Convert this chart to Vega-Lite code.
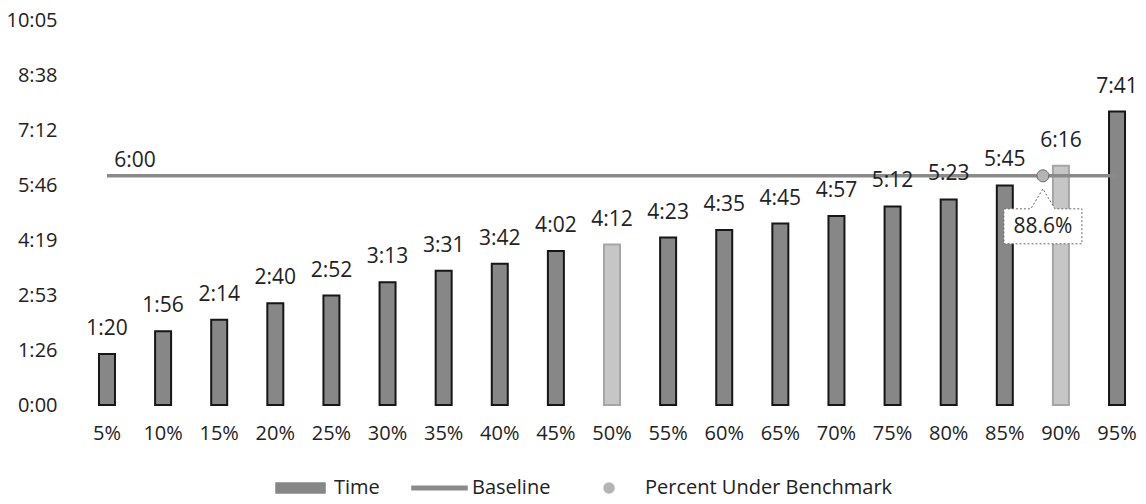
{
  "$schema": "https://vega.github.io/schema/vega-lite/v6.json",
  "width": 1066,
  "height": 385,
  "autosize": {"type": "none"},
  "padding": {"left": 79, "top": 20, "right": 1, "bottom": 99},
  "background": "white",
  "config": {"view": {"stroke": null}, "font": "Open Sans", "text": {"font": "Open Sans"}},
  "datasets": {
    "times": [
      {"pct": "5%", "sec": 80, "label": "1:20"},
      {"pct": "10%", "sec": 116, "label": "1:56"},
      {"pct": "15%", "sec": 134, "label": "2:14"},
      {"pct": "20%", "sec": 160, "label": "2:40"},
      {"pct": "25%", "sec": 172, "label": "2:52"},
      {"pct": "30%", "sec": 193, "label": "3:13"},
      {"pct": "35%", "sec": 211, "label": "3:31"},
      {"pct": "40%", "sec": 222, "label": "3:42"},
      {"pct": "45%", "sec": 242, "label": "4:02"},
      {"pct": "50%", "sec": 252, "label": "4:12"},
      {"pct": "55%", "sec": 263, "label": "4:23"},
      {"pct": "60%", "sec": 275, "label": "4:35"},
      {"pct": "65%", "sec": 285, "label": "4:45"},
      {"pct": "70%", "sec": 297, "label": "4:57"},
      {"pct": "75%", "sec": 312, "label": "5:12"},
      {"pct": "80%", "sec": 323, "label": "5:23"},
      {"pct": "85%", "sec": 345, "label": "5:45"},
      {"pct": "90%", "sec": 376, "label": "6:16"},
      {"pct": "95%", "sec": 461, "label": "7:41"}
    ],
    "baseline": [{"pct": "5%", "value": 360, "label": "6:00"}],
    "benchmark": [{"pct": "90%", "value": 360, "label": "88.6%"}]
  },
  "layer": [
    {
      "data": {"name": "times"},
      "mark": {"type": "bar", "strokeWidth": 2},
      "encoding": {
        "x": {
          "field": "pct", "type": "ordinal",
          "scale": {"domain": ["5%","10%","15%","20%","25%","30%","35%","40%","45%","50%","55%","60%","65%","70%","75%","80%","85%","90%","95%"], "paddingInner": 0.715, "paddingOuter": 0.356},
          "axis": {"title": null, "labelAngle": 0, "labelFontSize": 20, "labelFont": "Open Sans", "labelColor": "#222", "domain": false, "ticks": false, "labelPadding": 18}
        },
        "y": {
          "field": "sec", "type": "quantitative",
          "scale": {"domain": [0, 604.8], "nice": false},
          "axis": {
            "title": null, "values": [0, 86.4, 172.8, 259.2, 345.6, 432, 518.4, 604.8],
            "labelExpr": "floor(datum.value/60) + ':' + (round(datum.value % 60) < 10 ? '0' : '') + round(datum.value % 60)",
            "grid": false, "domain": false, "ticks": false, "labelPadding": 22,
            "labelFontSize": 20, "labelFont": "Open Sans", "labelColor": "#222"
          }
        },
        "color": {
          "condition": {"test": "datum.pct === '50%' || datum.pct === '90%'", "value": "#c6c6c6"},
          "datum": "Time",
          "scale": {"domain": ["Time", "Baseline", "Percent Under Benchmark"], "range": ["#878787", "#8a8a8a", "#b4b4b4"]},
          "legend": {
            "title": null, "orient": "none", "legendX": 231, "legendY": 458, "direction": "horizontal",
            "symbolSize": 100, "labelFontSize": 20, "labelFont": "Open Sans", "labelColor": "#222",
            "labelOffset": 4, "columnPadding": 29, "labelLimit": 500,
            "encode": {"symbols": {"update": {"fill": {"scale": "color", "field": "value"}, "stroke": {"value": "transparent"}, "opacity": {"value": 1}}}}
          }
        },
        "stroke": {
          "condition": {"test": "datum.pct === '50%' || datum.pct === '90%'", "value": "#a5a5a5"},
          "value": "#161616"
        }
      }
    },
    {
      "data": {"name": "times"},
      "mark": {"type": "line", "strokeWidth": 3.5},
      "encoding": {
        "x": {"field": "pct", "type": "ordinal"},
        "y": {"datum": 360},
        "color": {"datum": "Baseline"}
      }
    },
    {
      "data": {"name": "times"},
      "mark": {"type": "text", "dy": -25, "fontSize": 21, "color": "#222", "font": "Open Sans"},
      "encoding": {
        "x": {"field": "pct", "type": "ordinal"},
        "y": {"field": "sec", "type": "quantitative"},
        "text": {"field": "label"}
      }
    },
    {
      "data": {"name": "baseline"},
      "mark": {"type": "text", "dx": 28, "dy": -15, "fontSize": 21, "color": "#222", "font": "Open Sans"},
      "encoding": {
        "x": {"field": "pct", "type": "ordinal"},
        "y": {"field": "value", "type": "quantitative"},
        "text": {"field": "label"}
      }
    },
    {
      "data": {"name": "benchmark"},
      "mark": {"type": "point", "shape": "M-3.9,3.3L-1.2,3.3L0,1.3L1.2,3.3L3.9,3.3L3.9,6.8L-3.9,6.8Z", "size": 400, "filled": true, "fill": "white", "stroke": "#666", "strokeWidth": 1, "strokeDash": [2, 2], "xOffset": -18, "opacity": 1},
      "encoding": {
        "x": {"field": "pct", "type": "ordinal"},
        "y": {"field": "value", "type": "quantitative"}
      }
    },
    {
      "data": {"name": "benchmark"},
      "mark": {"type": "point", "filled": true, "size": 144, "xOffset": 8.4, "stroke": "#666", "strokeWidth": 1, "opacity": 1},
      "encoding": {
        "x": {"field": "pct", "type": "ordinal"},
        "y": {"field": "value", "type": "quantitative"},
        "color": {"datum": "Percent Under Benchmark"},
        "shape": {
          "datum": "Percent Under Benchmark",
          "scale": {"domain": ["Time", "Baseline", "Percent Under Benchmark"], "range": ["M-8.8,-1L1,-1L1,1L-8.8,1Z", "M-9.2,-0.35L1.8,-0.35L1.8,0.35L-9.2,0.35Z", "M-9.6,0L-9.6,0M-3.4,0A1,1 0 1,1 -5.4,0A1,1 0 1,1 -3.4,0Z"]},
          "legend": {
            "title": null, "orient": "none", "legendX": 231, "legendY": 458, "direction": "horizontal",
            "symbolSize": 100, "labelFontSize": 20, "labelFont": "Open Sans", "labelColor": "#222",
            "labelOffset": 4, "columnPadding": 29, "labelLimit": 500
          }
        }
      }
    },
    {
      "data": {"name": "benchmark"},
      "mark": {"type": "text", "dx": -18, "dy": 51, "fontSize": 21, "color": "#222", "font": "Open Sans"},
      "encoding": {
        "x": {"field": "pct", "type": "ordinal"},
        "y": {"field": "value", "type": "quantitative"},
        "text": {"field": "label"}
      }
    }
  ]
}
